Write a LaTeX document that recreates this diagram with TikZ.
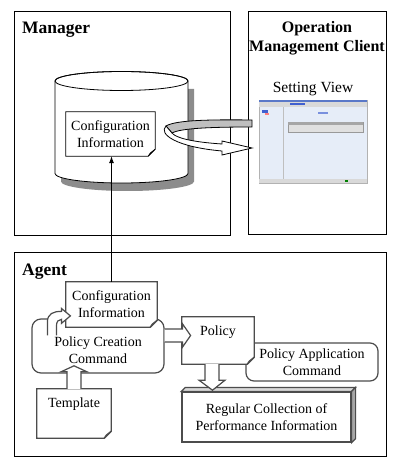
\documentclass[tikz,border=0pt]{standalone}
\usepackage{fontspec}
\setmainfont{Liberation Serif}
\usetikzlibrary{arrows.meta}
\definecolor{shotbg}{HTML}{E6EDF8}
\definecolor{shotbar}{HTML}{5A78C8}
\definecolor{shotblue}{HTML}{4060D0}
\newcommand{\dogear}[2]{%
  \filldraw[#2, fill=white] (#1.north west) -- (#1.north east) -- ([yshift=7bp]#1.south east) -- ([xshift=-7bp]#1.south east) -- (#1.south west) -- cycle;
  \filldraw[#2, fill=black!20] ([yshift=7bp]#1.south east) -- ([xshift=-5bp,yshift=3bp]#1.south east) -- ([xshift=-7bp]#1.south east) -- cycle;}
\begin{document}
\begin{tikzpicture}[x=1bp,y=-1bp,
  pane/.style={draw, line width=1bp},
  ttl/.style={font=\fontsize{17.5bp}{20bp}\selectfont\bfseries, inner sep=0pt},
  txt/.style={font=\fontsize{14bp}{17bp}\selectfont, align=center, inner sep=0pt},
  mgrline/.style={draw=black, line width=0.8bp},
  agline/.style={draw=black!70, line width=1.2bp},
  blockarrow/.style={agline, fill=white}]

\useasboundingbox[fill=white] (0,0) rectangle (406,471);

\draw[pane] (14,12)  rectangle (230,235);
\draw[pane] (248,12) rectangle (386,234);
\draw[pane] (14,252) rectangle (386,456);

\node[ttl, anchor=base west] (manager) at (22,34) {Manager};
\node[ttl, font=\fontsize{16bp}{19bp}\selectfont\bfseries, align=center, anchor=north] (client) at (317,21) {Operation\\Management Client};
\node[ttl, anchor=base west] (agent) at (22,275) {Agent};

% database
\fill[black!45, shift={(6,8)}] (55,81) -- (55,173.5) arc[start angle=180, end angle=0, x radius=66.5, y radius=9.5] -- (188,81) -- cycle;
\filldraw[mgrline, fill=white] (55,81) -- (55,173.5) arc[start angle=180, end angle=0, x radius=66.5, y radius=9.5] -- (188,81) arc[start angle=0, end angle=-180, x radius=66.5, y radius=9.5];
\draw[mgrline] (121.5,81) ellipse[x radius=66.5, y radius=9.5];

\node[minimum width=89bp, minimum height=44bp, inner sep=0pt] (mgrcfg) at (110.5,134) {};
\dogear{mgrcfg}{mgrline}
\node[txt] (mgrcfgtext) at (mgrcfg) {Configuration\\Information};

% setting view
\node[txt, font=\fontsize{15.5bp}{18bp}\selectfont, anchor=base] (view) at (313,93) {Setting View};
\filldraw[draw=black!30, fill=shotbg] (259,100) rectangle (367,183);
\fill[shotbar] (259,100) rectangle (367,102);
\fill[black!15] (259,102) rectangle (367,107);
\fill[shotblue] (290,103) rectangle (305,105);
\draw[black!25] (283,107) -- (283,180);
\fill[shotblue] (262,110) rectangle (268,113);
\fill[red!50] (265,113) rectangle (269,115);
\fill[shotblue!70] (318,112) rectangle (328,114);
\filldraw[draw=black!40, fill=black!12] (288,122) rectangle (363,132);
\fill[black!35] (288,122) rectangle (363,125);
\fill[black!15] (259,179) rectangle (367,183);
\fill[green!50!black] (345,180) rectangle (348,182);

% ring arrow
\filldraw[mgrline, fill=black!25] (166,126) .. controls (176,120) and (210,119.5) .. (252,120) -- (252,127) .. controls (214,127) and (181,128) .. (172,133) -- cycle;
\filldraw[mgrline, fill=white] (166,126) .. controls (158,134) and (176,147) .. (222,151) -- (222,155) -- (252,148) -- (222,141) -- (222,144) .. controls (192,142) and (176,138) .. (172,133) -- cycle;

% agent
\node[agline, fill=white, rounded corners=9bp, minimum width=132bp, minimum height=54bp] (pcc) at (98,346) {};
\node[txt] (pcctext) at (98,350) {Policy Creation\\Command};

\node[minimum width=74bp, minimum height=49bp, inner sep=0pt] (tmpl) at (74,413.5) {};
\dogear{tmpl}{agline}
\node[txt, anchor=north] (tmpltext) at ([yshift=-9bp]tmpl.north) {Template};
\draw[blockarrow, shift={(tmpl.north)}] (-7,0) -- (-7,-17) -- (-13,-17) -- (0,-23) -- (13,-17) -- (7,-17) -- (7,0);

\node[minimum width=91bp, minimum height=45bp, inner sep=0pt] (agcfg) at (111.5,304.5) {};
\dogear{agcfg}{agline}
\node[txt] (agcfgtext) at (agcfg) {Configuration\\Information};
\draw[blockarrow, shift={(pcc.north west)}] (16,17) -- (16,4) .. controls (16,-5) and (22,-7) .. (30,-7) -- (30,-10) -- (39,-2.5) -- (30,5) -- (30,1) .. controls (27,1) and (25,3) .. (25,8) -- (25,17);

\draw[mgrline, -{Latex[length=7bp,width=5bp]}] (agcfg.north) -- (agcfg.north |- mgrcfg.south);

\node[agline, fill=white, rounded corners=8bp, minimum width=132bp, minimum height=38bp, txt] (pac) at (312,362) {Policy Application\\Command};

\node[minimum width=72bp, minimum height=47bp, inner sep=0pt] (policy) at (218,340.5) {};
\dogear{policy}{agline}
\node[txt, anchor=north] (policytext) at ([yshift=-9bp]policy.north) {Policy};
\draw[blockarrow, shift={(pcc.east)}] (0,-17) -- (18,-17) -- (18,-22) -- (26,-10.5) -- (18,1) -- (18,-4) -- (0,-4);

\node[agline, fill=white, txt, minimum width=169bp, minimum height=50bp] (regular) at (266.5,417) {Regular Collection of\\Performance Information};
\filldraw[agline, fill=black!15] (regular.north west) -- ++(4,-4) -- ([shift={(4,-4)}]regular.north east) -- (regular.north east) -- cycle;
\filldraw[agline, fill=black!35] (regular.north east) -- ++(4,-4) -- ([shift={(4,-4)}]regular.south east) -- (regular.south east) -- cycle;
\draw[blockarrow, shift={(policy.south)}] (-13,0) -- (-13,16) -- (-19,16) -- (-5.5,26) -- (7,16) -- (1,16) -- (1,0);
\end{tikzpicture}
\end{document}
